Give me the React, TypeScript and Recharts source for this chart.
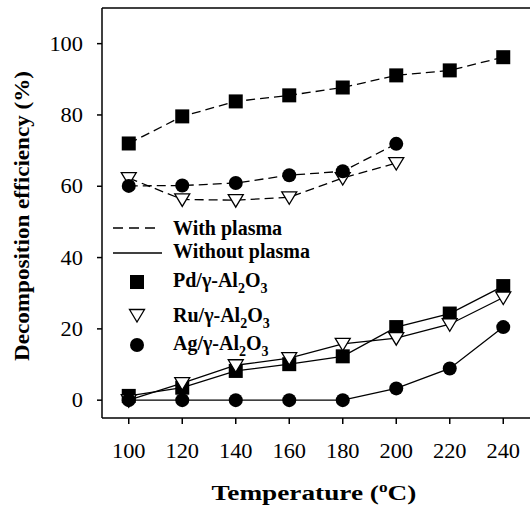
import { Label, Line, LineChart, ReferenceLine, XAxis, YAxis } from 'recharts';

const temperatures = [100, 120, 140, 160, 180, 200, 220, 240];

// with plasma (dashed)
const pdPlasma = [72, 79.6, 83.8, 85.5, 87.7, 91.1, 92.5, 96.2];
const ruPlasma = [62.3, 56.3, 56.1, 56.9, 62.3, 66.5];
const agPlasma = [60.1, 60.2, 60.9, 63.1, 64.2, 71.9];

// without plasma (solid)
const pdNoPlasma = [1.2, 3.5, 8.2, 10.1, 12.3, 20.5, 24.3, 32];
const ruNoPlasma = [0, 4.8, 9.8, 11.8, 15.8, 17.4, 21.3, 28.8];
const agNoPlasma = [0, 0, 0, 0, 0, 3.3, 8.9, 20.5];

const yTicks = [0, 20, 40, 60, 80, 100];
const xTicks = [100, 120, 140, 160, 180, 200, 220, 240];

const xTitle = 'Temperature (';
const yTitle = 'Decomposition efficiency (%)';
const legendLines = ['With plasma', 'Without plasma'];
const catalysts = ['Pd', 'Ru', 'Ag'];

const FONT = "'Liberation Serif', 'DejaVu Serif', serif";
// the source figure is a bit wider than tall, so text glyphs are stretched a little
const STRETCH = 1.12;

const data = temperatures.map((t, i) => ({
  t,
  pdPlasma: pdPlasma[i],
  ruPlasma: ruPlasma[i],
  agPlasma: agPlasma[i],
  pdNoPlasma: pdNoPlasma[i],
  ruNoPlasma: ruNoPlasma[i],
  agNoPlasma: agNoPlasma[i],
}));

type Shape = 'square' | 'triangle' | 'circle';

const Marker = ({ cx, cy, shape }: { cx: number; cy: number; shape: Shape }) => {
  if (shape === 'square') return <rect x={cx - 7} y={cy - 7} width={14} height={14} fill="#000" />;
  if (shape === 'triangle')
    return (
      <polygon
        points={`${cx - 7.5},${cy - 5.5} ${cx + 7.5},${cy - 5.5} ${cx},${cy + 7}`}
        fill="#fff"
        stroke="#000"
        strokeWidth={1.3}
      />
    );
  return <circle cx={cx} cy={cy} r={7} fill="#000" />;
};

const makeDot = (name: string, shape: Shape) => (p: any) => {
  const key = `${name}-${p.index}`;
  if (p.cx == null || p.cy == null || p.value == null) return <g key={key} />;
  return (
    <g key={key}>
      <Marker cx={p.cx} cy={p.cy} shape={shape} />
    </g>
  );
};

const shapes: Shape[] = ['square', 'triangle', 'circle'];

const textStyle = { fontFamily: FONT, fontWeight: 'bold' as const, fontSize: 20, fill: '#000' };

const CatalystText = ({ x, y, metal }: { x: number; y: number; metal: string }) => (
  <text x={x} y={y} style={textStyle}>
    {metal}/γ-Al
    <tspan dy={6} style={{ fontSize: 14 }}>2</tspan>
    <tspan dy={-6}>O</tspan>
    <tspan dy={6} style={{ fontSize: 14 }}>3</tspan>
  </text>
);

const ChartLegend = () => (
  <svg width={260} height={150} style={{ position: 'absolute', left: 105, top: 215 }}>
    <line x1={8} x2={52} y1={13} y2={13} stroke="#000" strokeWidth={1.3} strokeDasharray="10 6" />
    <text x={68} y={20} style={textStyle}>{legendLines[0]}</text>
    <line x1={8} x2={57} y1={38} y2={38} stroke="#000" strokeWidth={1.3} />
    <text x={68} y={43} style={textStyle}>{legendLines[1]}</text>
    {catalysts.map((m, i) => (
      <g key={m}>
        <Marker cx={32} cy={[67, 100, 130][i]} shape={shapes[i]} />
        <CatalystText x={68} y={[72, 107, 135][i]} metal={m} />
      </g>
    ))}
  </svg>
);

const XTitle = (props: any) => {
  const vb = props.viewBox;
  const cx = vb.x + vb.width / 2 - 2;
  return (
    <text transform={`translate(${cx}, 500) scale(1.24, 1)`} textAnchor="middle" style={{ ...textStyle, fontSize: 22 }}>
      {xTitle}
      <tspan dy={-8} style={{ fontSize: 14 }}>o</tspan>
      <tspan dy={8}>C)</tspan>
    </text>
  );
};

const YTitle = () => (
  <text
    transform="translate(29, 216) rotate(-90) scale(1.05, 1)"
    textAnchor="middle"
    style={{ ...textStyle, fontSize: 22 }}
  >
    {yTitle}
  </text>
);

const XTick = (p: any) => (
  <text
    transform={`translate(${p.x}, ${p.y}) scale(${STRETCH}, 1)`}
    textAnchor="middle"
    dy="0.71em"
    style={{ fontFamily: FONT, fontSize: 20, fill: '#000' }}
  >
    {p.payload.value}
  </text>
);

const YTick = (p: any) => (
  <text
    transform={`translate(${p.x}, ${p.y}) scale(${STRETCH}, 1)`}
    textAnchor="end"
    dy="0.35em"
    style={{ fontFamily: FONT, fontSize: 20, fill: '#000' }}
  >
    {p.payload.value}
  </text>
);

export default function App() {
  return (
    <div style={{ position: 'absolute', left: 0, top: 0, width: 530, height: 508, background: '#fff', fontFamily: FONT }}>
      <LineChart width={530} height={508} data={data} margin={{ top: 8, right: 0, left: 0, bottom: 0 }}>
        <XAxis
          dataKey="t"
          type="number"
          domain={[90, 250]}
          ticks={xTicks}
          allowDataOverflow
          height={90}
          tick={<XTick />}
          tickSize={6}
          tickMargin={20}
          stroke="#000"
          strokeWidth={1.5}
        >
          <Label content={<XTitle />} />
        </XAxis>
        <YAxis
          type="number"
          domain={[-5, 110]}
          ticks={yTicks}
          allowDataOverflow
          width={102}
          tick={<YTick />}
          tickSize={5}
          tickMargin={14}
          stroke="#000"
          strokeWidth={1.5}
        >
          <Label content={<YTitle />} />
        </YAxis>
        <ReferenceLine y={110} stroke="#000" strokeWidth={1.5} />
        <Line dataKey="pdPlasma" stroke="#000" strokeWidth={1.3} strokeDasharray="9 5" dot={makeDot('pdP', 'square')} isAnimationActive={false} />
        <Line dataKey="ruPlasma" stroke="#000" strokeWidth={1.3} strokeDasharray="9 5" dot={makeDot('ruP', 'triangle')} isAnimationActive={false} />
        <Line dataKey="agPlasma" stroke="#000" strokeWidth={1.3} strokeDasharray="9 5" dot={makeDot('agP', 'circle')} isAnimationActive={false} />
        <Line dataKey="pdNoPlasma" stroke="#000" strokeWidth={1.3} dot={makeDot('pdN', 'square')} isAnimationActive={false} />
        <Line dataKey="ruNoPlasma" stroke="#000" strokeWidth={1.3} dot={makeDot('ruN', 'triangle')} isAnimationActive={false} />
        <Line dataKey="agNoPlasma" stroke="#000" strokeWidth={1.3} dot={makeDot('agN', 'circle')} isAnimationActive={false} />
      </LineChart>
      <ChartLegend />
    </div>
  );
}
